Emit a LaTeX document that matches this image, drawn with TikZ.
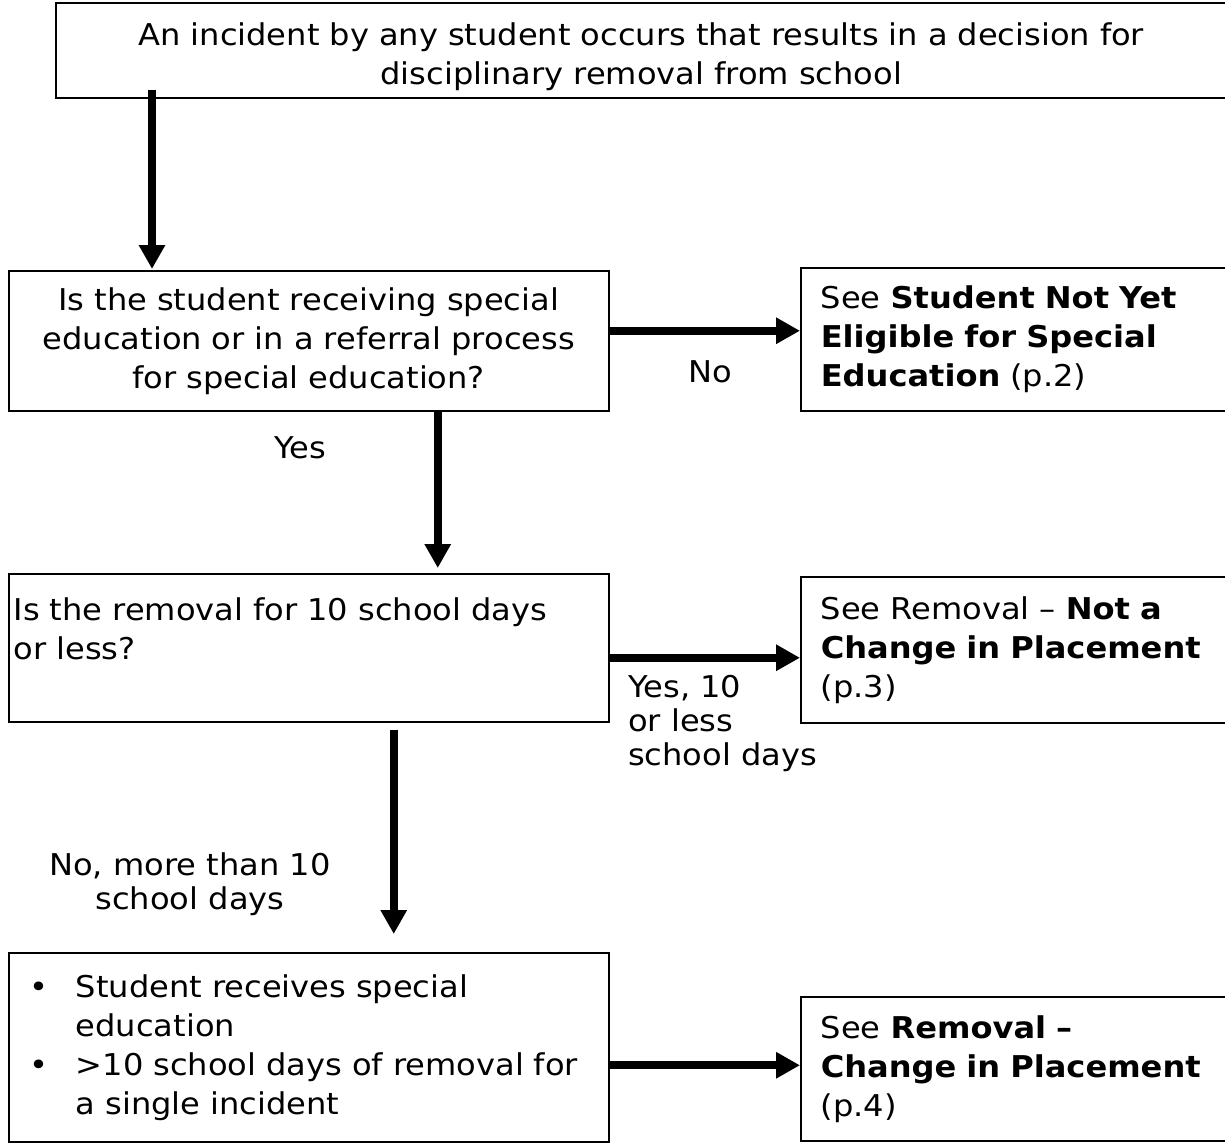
\documentclass[tikz,border=0pt]{standalone}
\usepackage{fontspec}
\setmainfont{DejaVu Sans}[FakeStretch=1.07]
\usetikzlibrary{arrows.meta, positioning}

\newcommand{\flowfont}{\fontsize{30}{39}\selectfont}
\newcommand{\labelfont}{\fontsize{30}{34}\selectfont}
\newcommand{\bulletline}[1]{\hspace*{6pt}\makebox[46pt][l]{\textbullet}#1}
\newcommand{\bulletrest}[1]{\hspace*{52pt}#1}

\begin{document}
\begin{tikzpicture}[
    x=1pt, y=1pt,
    box/.style={
        rectangle, draw=black, line width=1.5pt, anchor=north west,
        inner ysep=0pt, font=\flowfont,
    },
    flow/.style={
        -{Triangle[width=25pt, length=24pt]}, line width=8pt, black,
    },
    answer/.style={
        font=\labelfont, inner sep=0pt,
    },
]

\clip (0, 0) rectangle (1225, -1143);

% --- Boxes ---
\node[box, minimum width=1171pt, minimum height=95pt, inner xsep=20pt,
    text width=1131pt, align=center] (incident) at (55, -2)
    {\rule{0pt}{36pt}An incident by any student occurs that results in a decision for\\
     disciplinary removal from school};

\node[box, minimum width=600pt, minimum height=140pt, inner xsep=10pt,
    text width=580pt, align=center] (special) at (8, -270)
    {Is the student receiving special\\
     education or in a referral process\\
     for special education?};

\node[box, minimum width=440pt, minimum height=143pt, inner xsep=20pt,
    text width=400pt, align=left] (noteligible) at (800, -267)
    {See \textbf{Student Not Yet}\\
     \textbf{Eligible for Special}\\
     \textbf{Education} (p.2)};

\node[box, minimum width=600pt, minimum height=148pt, inner xsep=5pt,
    text width=590pt, align=left] (tendays) at (8, -573)
    {Is the removal for 10 school days\\
     or less?\\
     \mbox{}};

\node[box, minimum width=440pt, minimum height=146pt, inner xsep=20pt,
    text width=400pt, align=left] (notchange) at (800, -576)
    {See Removal -- \textbf{Not a}\\
     \textbf{Change in Placement}\\
     (p.3)};

\node[box, minimum width=600pt, minimum height=189pt, inner xsep=15pt,
    text width=570pt, align=left] (longrem) at (8, -952)
    {\bulletline{Student receives special}\\
     \bulletrest{education}\\
     \bulletline{>10 school days of removal for}\\
     \bulletrest{a single incident}};

\node[box, minimum width=440pt, minimum height=144pt, inner xsep=20pt,
    text width=400pt, align=left] (change) at (800, -996)
    {See \textbf{Removal --}\\
     \textbf{Change in Placement}\\
     (p.4)};

% --- Arrows ---
\draw[flow, shorten >=-8pt] ([shift={(97pt, 9pt)}]incident.south west)
    -- ([shift={(97pt, 9pt)}]incident.south west |- special.north);
\draw[flow] ([yshift=10pt]special.east)
    -- ([yshift=10pt]special.east -| noteligible.west);
\draw[flow, shorten >=5pt] ([xshift=129pt]special.south)
    -- ([xshift=129pt]special.south |- tendays.north);
\draw[flow] ([yshift=-10pt]tendays.east)
    -- ([yshift=-10pt]tendays.east -| notchange.west);
\draw[flow, shorten >=25pt] ([shift={(85pt, -7pt)}]tendays.south)
    -- ([shift={(85pt, -7pt)}]tendays.south |- longrem.north);
\draw[flow] ([yshift=-18pt]longrem.east)
    -- ([yshift=-18pt]longrem.east -| change.west);

% --- Answers ---
\node[answer] (no) at (710, -372) {No};
\node[answer] (yes) at (300, -448) {Yes};
\node[answer, anchor=north west, align=left] (yesless) at (628, -675)
    {Yes, 10\\ or less\\ school days};
\node[answer, align=center] (nomore) at (190, -884)
    {No, more than 10\\ school days};

\end{tikzpicture}
\end{document}
